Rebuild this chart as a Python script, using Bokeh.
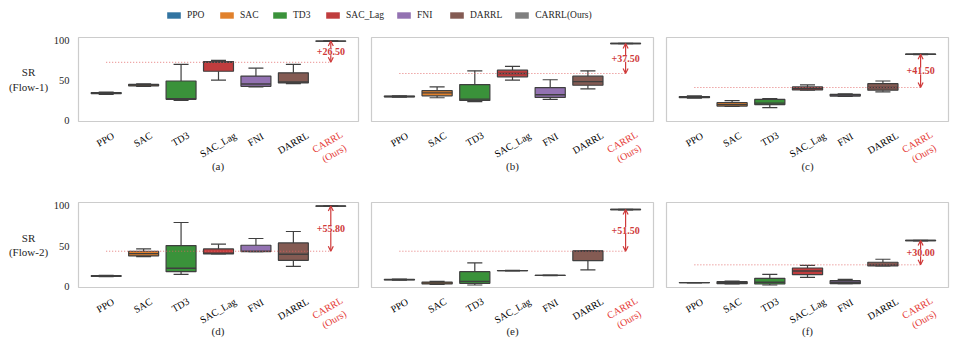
import math
from bokeh.plotting import figure
from bokeh.models import (Range1d, FixedTicker, Label, Arrow, OpenHead, Legend,
                          LegendItem, ColumnDataSource)
from bokeh.core.properties import value
from bokeh.layouts import column, row
from bokeh.embed import file_html
from bokeh.resources import INLINE

# ---------------- data ----------------
methods = ["PPO", "SAC", "TD3", "SAC_Lag", "FNI", "DARRL", "CARRL(Ours)"]
tick_labels = ["PPO", "SAC", "TD3", "SAC_Lag", "FNI", "DARRL", "CARRL\n(Ours)"]
colors = ["#3274a1", "#e1812c", "#3a923a", "#c03d3e", "#9372b2", "#845b53", "#7f7f7f"]
panel_letters = ["(a)", "(b)", "(c)", "(d)", "(e)", "(f)"]
row_labels = ["SR\n(Flow-1)", "SR\n(Flow-2)"]
y_ticks = [0, 50, 100]

# panel (a) Flow-1
a_low = [33.0, 42.8, 25.4, 50.8, 42.3, 46.3, 99.2]
a_q1 = [33.8, 43.5, 26.7, 61.8, 43.0, 47.2, 99.4]
a_med = [34.5, 44.5, 27.5, 73.0, 45.9, 48.4, 99.5]
a_q3 = [35.2, 45.5, 49.6, 74.0, 55.8, 59.8, 99.6]
a_high = [35.8, 46.0, 70.5, 75.4, 65.6, 70.5, 99.8]
# panel (b) Flow-1
b_low = [29.5, 28.7, 23.8, 50.8, 26.6, 39.8, 96.2]
b_q1 = [29.8, 31.1, 25.4, 54.9, 29.1, 44.3, 96.4]
b_med = [30.3, 34.8, 27.0, 59.0, 32.4, 48.8, 96.5]
b_q3 = [30.8, 37.7, 45.1, 63.1, 41.4, 55.7, 96.6]
b_high = [31.2, 42.2, 62.3, 68.0, 51.2, 62.3, 96.8]
# panel (c) Flow-1
c_low = [28.3, 18.0, 16.4, 38.1, 30.5, 36.1, 82.6]
c_q1 = [28.8, 18.3, 20.1, 38.5, 30.8, 38.1, 82.8]
c_med = [29.5, 20.1, 22.0, 40.6, 32.0, 41.5, 83.0]
c_q3 = [30.2, 22.5, 26.6, 42.2, 33.0, 46.3, 83.2]
c_high = [31.0, 25.0, 27.5, 44.7, 33.5, 49.6, 83.4]
# panel (d) Flow-2
d_low = [12.4, 37.2, 15.3, 40.5, 43.4, 25.2, 99.3]
d_q1 = [12.8, 38.0, 18.6, 40.5, 43.4, 32.6, 99.5]
d_med = [13.2, 40.9, 22.7, 41.3, 43.8, 40.1, 99.6]
d_q3 = [13.6, 43.8, 50.8, 46.7, 51.2, 54.1, 99.7]
d_high = [14.0, 46.7, 79.3, 52.5, 59.5, 68.2, 99.9]
# panel (e) Flow-2
e_low = [8.0, 2.8, 2.1, 19.5, 13.7, 20.7, 95.0]
e_q1 = [8.3, 3.3, 4.1, 19.7, 13.9, 32.2, 95.2]
e_med = [8.7, 4.5, 6.6, 19.8, 14.0, 43.8, 95.3]
e_q3 = [9.0, 5.8, 18.6, 19.9, 14.1, 44.2, 95.4]
e_high = [9.4, 6.5, 29.3, 20.1, 14.3, 44.6, 95.6]
# panel (f) Flow-2
f_low = [4.8, 3.3, 2.1, 11.6, 3.7, 25.6, 56.7]
f_q1 = [4.9, 3.7, 3.3, 14.9, 3.7, 25.6, 56.9]
f_med = [5.0, 5.0, 5.5, 19.4, 5.4, 27.0, 57.0]
f_q3 = [5.1, 6.2, 10.3, 23.1, 7.4, 30.2, 57.1]
f_high = [5.2, 7.0, 15.3, 26.4, 9.1, 33.9, 57.3]

# ---------------- style ----------------
FONT = "Liberation Serif"
EDGE = "#3f3f3f"
TXT = "#262626"
RED_TICK = "#e53935"
RED_ANN = "#cf3a3a"
BOX_W = 0.8
X_PAD = 0.74
Y_START, Y_END = -1, 104
TICK_FS = 10
ROT_DEG = 30


def text_width(s, fs):
    w = 0.0
    for ch in s:
        if ch.isupper():
            w += 0.68
        elif ch.islower():
            w += 0.46
        elif ch.isdigit() or ch == "_":
            w += 0.5
        else:
            w += 0.34
    return w * fs


def hide_grid(p):
    for g in p.grid:
        g.grid_line_color = None


def base_fig(w, h, xr, yr, bl, br, bt, bb, yaxis=False):
    p = figure(width=w, height=h, x_range=xr, y_range=yr, output_backend="svg",
               toolbar_location=None, title=None, x_axis_location=None,
               y_axis_location="left" if yaxis else None,
               min_border_left=bl, min_border_right=br, min_border_top=bt,
               min_border_bottom=bb)
    hide_grid(p)
    return p


def make_panel(stats, w, h, bl, br, bt, bb, yaxis=False):
    low, q1, med, q3, high = stats
    n = len(methods)
    xs = list(range(n))
    xr = Range1d(-X_PAD, n - 1 + X_PAD)
    yr = Range1d(Y_START, Y_END)
    p = base_fig(w, h, xr, yr, bl, br, bt, bb, yaxis)
    p.outline_line_color = "#cccccc"
    p.outline_line_width = 1.2

    if yaxis:
        ax = p.yaxis[0]
        ax.ticker = FixedTicker(ticks=y_ticks)
        ax.axis_line_color = None
        ax.major_tick_line_color = None
        ax.minor_tick_line_color = None
        ax.major_tick_out = 0
        ax.minor_tick_out = 0
        ax.major_label_standoff = 9
        ax.major_label_text_font = FONT
        ax.major_label_text_font_size = "10.5px"
        ax.major_label_text_color = TXT

    src = ColumnDataSource(dict(
        x=xs, low=low, q1=q1, med=med, q3=q3, high=high, color=colors,
        bx0=[x - BOX_W / 2 for x in xs], bx1=[x + BOX_W / 2 for x in xs],
        cx0=[x - BOX_W / 4 for x in xs], cx1=[x + BOX_W / 4 for x in xs]))

    p.segment(x0="x", y0="q3", x1="x", y1="high", source=src, line_color=EDGE, line_width=1.2)
    p.segment(x0="x", y0="low", x1="x", y1="q1", source=src, line_color=EDGE, line_width=1.2)
    p.segment(x0="cx0", y0="high", x1="cx1", y1="high", source=src, line_color=EDGE, line_width=1.2)
    p.segment(x0="cx0", y0="low", x1="cx1", y1="low", source=src, line_color=EDGE, line_width=1.2)
    p.vbar(x="x", bottom="q1", top="q3", width=BOX_W, source=src, fill_color="color",
           line_color=EDGE, line_width=1.2)
    p.segment(x0="bx0", y0="med", x1="bx1", y1="med", source=src, line_color=EDGE, line_width=1.4)

    # improvement annotation
    best = max(med[:-1])
    ours = med[-1]
    delta = ours - best
    p.line(x=[xs[0], xs[-1]], y=[best, best], line_color="#e06060", line_alpha=0.85,
           line_width=1, line_dash="1 2")
    p.add_layout(Arrow(x_start=xs[-1], y_start=best, x_end=xs[-1], y_end=ours,
                       line_color=RED_ANN, line_width=1.2,
                       start=OpenHead(size=5, line_color=RED_ANN, line_width=1.2),
                       end=OpenHead(size=5, line_color=RED_ANN, line_width=1.2)))
    p.add_layout(Label(x=xs[-1], y=(best + ours) / 2, text="+%.2f" % delta,
                       text_align="center", text_baseline="middle", text_font=FONT,
                       text_font_size="10px", text_font_style="bold", text_color=RED_ANN,
                       background_fill_color="white", background_fill_alpha=0.7))
    return p


def make_strip(letter, w, h, bl, br, gap, letter_dy):
    """Area under a panel holding the rotated category names and the panel letter.
    Its frame fills the whole strip; the x range is widened so that categories
    line up with the panel above (frame borders bl / br of that panel)."""
    n = len(methods)
    ppu = (w - bl - br) / (n - 1 + 2 * X_PAD)
    xr = Range1d(-X_PAD - bl / ppu, n - 1 + X_PAD + br / ppu)
    yr = Range1d(-h, 0)  # one unit = one pixel
    p = figure(width=w, height=h, x_range=xr, y_range=yr, output_backend="svg",
               toolbar_location=None, title=None, x_axis_location=None,
               y_axis_location=None, min_border=0)
    hide_grid(p)
    p.outline_line_color = None
    fs = TICK_FS
    rad = math.radians(ROT_DEG)
    ys = []
    for lab in tick_labels:
        lines = lab.split("\n")
        tw = max(text_width(s, fs) for s in lines)
        bh = tw * math.sin(rad) + len(lines) * fs * 1.1 * math.cos(rad)
        ys.append(-(gap + bh / 2))
    xs = list(range(n))
    # baselines (dark text)
    base_src = ColumnDataSource(dict(x=xs[:-1], y=ys[:-1], text=tick_labels[:-1]))
    p.text(x="x", y="y", text="text", source=base_src, angle=ROT_DEG, angle_units="deg",
           text_align="center", text_baseline="middle", text_font=value(FONT),
           text_font_size=value("%dpx" % fs))
    # our method (red text)
    ours_src = ColumnDataSource(dict(x=xs[-1:], y=ys[-1:], text=tick_labels[-1:]))
    p.text(x="x", y="y", text="text", source=ours_src, angle=ROT_DEG, angle_units="deg",
           text_align="center", text_baseline="middle", text_font=value(FONT),
           text_font_size=value("%dpx" % fs), text_color=RED_TICK)
    p.add_layout(Label(x=(n - 1) / 2, y=-letter_dy, text=letter,
                       text_align="center", text_baseline="middle", text_font=FONT,
                       text_font_size="11px", text_color=TXT))
    return p


def make_ylabel(text, w, h, bt, bb):
    xr = Range1d(0, w)
    yr = Range1d(Y_START, Y_END)
    p = base_fig(w, h, xr, yr, 0, 0, bt, bb)
    p.outline_line_color = None
    p.add_layout(Label(x=28, y=(yr.start + yr.end) / 2, text=text, text_align="center",
                       text_baseline="middle", text_font=FONT, text_font_size="11px",
                       text_color=TXT))
    return p


YL_W = 50
# row 1: panel frames 37..121 (top border 9, bottom border 6)
yl1 = make_ylabel(row_labels[0], YL_W, 99, 9, 6)
pa = make_panel((a_low, a_q1, a_med, a_q3, a_high), 364 - YL_W, 99, 77 - YL_W, 6, 9, 6, True)
pb = make_panel((b_low, b_q1, b_med, b_q3, b_high), 295, 99, 7, 6, 9, 6)
pc = make_panel((c_low, c_q1, c_med, c_q3, c_high), 296, 99, 7, 7, 9, 6)
sa = make_strip(panel_letters[0], 364, 49, 77, 6, 2, 38)
sb = make_strip(panel_letters[1], 295, 49, 7, 6, 2, 38)
sc = make_strip(panel_letters[2], 296, 49, 7, 7, 2, 38)
# row 2: panel frames 202..287
yl2 = make_ylabel(row_labels[1], YL_W, 117, 26, 6)
pd = make_panel((d_low, d_q1, d_med, d_q3, d_high), 364 - YL_W, 117, 77 - YL_W, 6, 26, 6, True)
pe = make_panel((e_low, e_q1, e_med, e_q3, e_high), 295, 117, 7, 6, 26, 6)
pf = make_panel((f_low, f_q1, f_med, f_q3, f_high), 296, 117, 7, 7, 26, 6)
sd = make_strip(panel_letters[3], 364, 50, 77, 6, 2, 37)
se = make_strip(panel_letters[4], 295, 50, 7, 6, 2, 37)
sf = make_strip(panel_letters[5], 296, 50, 7, 7, 2, 37)

# legend strip
lf = figure(width=955, height=28, x_range=Range1d(0, 1), y_range=Range1d(0, 1),
            output_backend="svg", toolbar_location=None, title=None,
            x_axis_location=None, y_axis_location=None, min_border=0)
hide_grid(lf)
lf.outline_line_color = None
items = []
for m, c in zip(methods, colors):
    r = lf.vbar(x=[5], top=[5], bottom=[4], width=0.1, fill_color=c, line_color=None)
    items.append(LegendItem(label=m, renderers=[r]))
legend = Legend(items=items, orientation="horizontal", location=(165, 8),
                glyph_width=17, glyph_height=8, label_standoff=5, spacing=11,
                padding=0, margin=0, border_line_color=None, background_fill_alpha=0,
                label_text_font=FONT, label_text_font_size="9.5px",
                label_text_color=TXT, label_height=10)
lf.add_layout(legend)

layout = column(lf,
                row(yl1, pa, pb, pc), row(sa, sb, sc),
                row(yl2, pd, pe, pf), row(sd, se, sf))
open("out.html", "w").write(file_html(layout, INLINE))
